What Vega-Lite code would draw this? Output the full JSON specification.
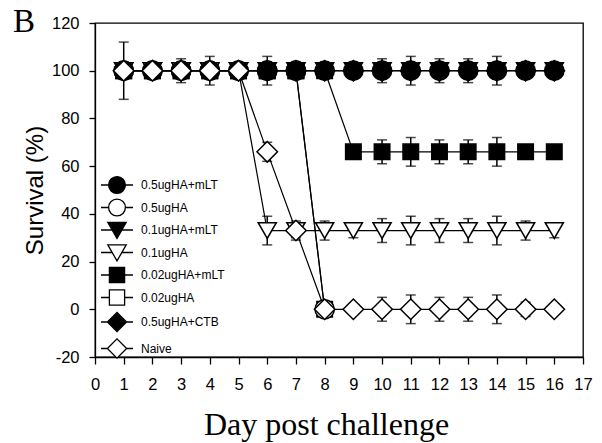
{
  "$schema": "https://vega.github.io/schema/vega-lite/v6.json",
  "width": 488,
  "height": 334,
  "autosize": {"type": "none"},
  "padding": {"left": 95, "top": 23, "right": 19, "bottom": 86},
  "background": "white",
  "title": {"text": "B", "anchor": "start", "frame": "group", "font": "Liberation Serif", "fontSize": 33, "fontWeight": "normal", "color": "black", "dx": -82, "dy": 12, "offset": -12},
  "config": {
    "view": {"stroke": "black", "strokeWidth": 1.3},
    "axis": {"grid": false, "domainColor": "black", "tickColor": "black", "labelColor": "black", "titleColor": "black", "labelFont": "Liberation Sans", "labelFontSize": 16.5, "domainWidth": 1.3, "tickWidth": 1.3, "labelFlush": false}
  },
  "datasets": {
    "pts": [
      {"group": "0.02ugHA", "day": 1, "survival": 100, "err": 0},
      {"group": "0.02ugHA", "day": 2, "survival": 100, "err": 0},
      {"group": "0.02ugHA", "day": 3, "survival": 100, "err": 0},
      {"group": "0.02ugHA", "day": 4, "survival": 100, "err": 0},
      {"group": "0.02ugHA", "day": 5, "survival": 100, "err": 0},
      {"group": "0.02ugHA", "day": 6, "survival": 100, "err": 0},
      {"group": "0.02ugHA", "day": 7, "survival": 100, "err": 0},
      {"group": "0.02ugHA", "day": 8, "survival": 0, "err": 0},
      {"group": "0.5ugHA", "day": 1, "survival": 100, "err": 0},
      {"group": "0.5ugHA", "day": 2, "survival": 100, "err": 0},
      {"group": "0.5ugHA", "day": 3, "survival": 100, "err": 0},
      {"group": "0.5ugHA", "day": 4, "survival": 100, "err": 0},
      {"group": "0.5ugHA", "day": 5, "survival": 100, "err": 0},
      {"group": "0.5ugHA", "day": 6, "survival": 100, "err": 0},
      {"group": "0.5ugHA", "day": 7, "survival": 100, "err": 0},
      {"group": "0.5ugHA", "day": 8, "survival": 0, "err": 0},
      {"group": "0.1ugHA+mLT", "day": 1, "survival": 100, "err": 0},
      {"group": "0.1ugHA+mLT", "day": 2, "survival": 100, "err": 0},
      {"group": "0.1ugHA+mLT", "day": 3, "survival": 100, "err": 0},
      {"group": "0.1ugHA+mLT", "day": 4, "survival": 100, "err": 0},
      {"group": "0.1ugHA+mLT", "day": 5, "survival": 100, "err": 0},
      {"group": "0.1ugHA+mLT", "day": 6, "survival": 100, "err": 0},
      {"group": "0.1ugHA+mLT", "day": 7, "survival": 100, "err": 0},
      {"group": "0.1ugHA+mLT", "day": 8, "survival": 100, "err": 0},
      {"group": "0.1ugHA+mLT", "day": 9, "survival": 100, "err": 0},
      {"group": "0.1ugHA+mLT", "day": 10, "survival": 100, "err": 0},
      {"group": "0.1ugHA+mLT", "day": 11, "survival": 100, "err": 0},
      {"group": "0.1ugHA+mLT", "day": 12, "survival": 100, "err": 0},
      {"group": "0.1ugHA+mLT", "day": 13, "survival": 100, "err": 0},
      {"group": "0.1ugHA+mLT", "day": 14, "survival": 100, "err": 0},
      {"group": "0.1ugHA+mLT", "day": 15, "survival": 100, "err": 0},
      {"group": "0.1ugHA+mLT", "day": 16, "survival": 100, "err": 0},
      {"group": "0.5ugHA+mLT", "day": 1, "survival": 100, "err": 0},
      {"group": "0.5ugHA+mLT", "day": 2, "survival": 100, "err": 0},
      {"group": "0.5ugHA+mLT", "day": 3, "survival": 100, "err": 0},
      {"group": "0.5ugHA+mLT", "day": 4, "survival": 100, "err": 0},
      {"group": "0.5ugHA+mLT", "day": 5, "survival": 100, "err": 0},
      {"group": "0.5ugHA+mLT", "day": 6, "survival": 100, "err": 6},
      {"group": "0.5ugHA+mLT", "day": 7, "survival": 100, "err": 2},
      {"group": "0.5ugHA+mLT", "day": 8, "survival": 100, "err": 2},
      {"group": "0.5ugHA+mLT", "day": 9, "survival": 100, "err": 0},
      {"group": "0.5ugHA+mLT", "day": 10, "survival": 100, "err": 5},
      {"group": "0.5ugHA+mLT", "day": 11, "survival": 100, "err": 6},
      {"group": "0.5ugHA+mLT", "day": 12, "survival": 100, "err": 5},
      {"group": "0.5ugHA+mLT", "day": 13, "survival": 100, "err": 5},
      {"group": "0.5ugHA+mLT", "day": 14, "survival": 100, "err": 6},
      {"group": "0.5ugHA+mLT", "day": 15, "survival": 100, "err": 2},
      {"group": "0.5ugHA+mLT", "day": 16, "survival": 100, "err": 0},
      {"group": "0.1ugHA", "day": 1, "survival": 100, "err": 0},
      {"group": "0.1ugHA", "day": 2, "survival": 100, "err": 0},
      {"group": "0.1ugHA", "day": 3, "survival": 100, "err": 0},
      {"group": "0.1ugHA", "day": 4, "survival": 100, "err": 0},
      {"group": "0.1ugHA", "day": 5, "survival": 100, "err": 0},
      {"group": "0.1ugHA", "day": 6, "survival": 33, "err": 6},
      {"group": "0.1ugHA", "day": 7, "survival": 33, "err": 3},
      {"group": "0.1ugHA", "day": 8, "survival": 33, "err": 4},
      {"group": "0.1ugHA", "day": 9, "survival": 33, "err": 3},
      {"group": "0.1ugHA", "day": 10, "survival": 33, "err": 5},
      {"group": "0.1ugHA", "day": 11, "survival": 33, "err": 6},
      {"group": "0.1ugHA", "day": 12, "survival": 33, "err": 5},
      {"group": "0.1ugHA", "day": 13, "survival": 33, "err": 5},
      {"group": "0.1ugHA", "day": 14, "survival": 33, "err": 6},
      {"group": "0.1ugHA", "day": 15, "survival": 33, "err": 4},
      {"group": "0.1ugHA", "day": 16, "survival": 33, "err": 3},
      {"group": "0.02ugHA+mLT", "day": 1, "survival": 100, "err": 0},
      {"group": "0.02ugHA+mLT", "day": 2, "survival": 100, "err": 0},
      {"group": "0.02ugHA+mLT", "day": 3, "survival": 100, "err": 0},
      {"group": "0.02ugHA+mLT", "day": 4, "survival": 100, "err": 0},
      {"group": "0.02ugHA+mLT", "day": 5, "survival": 100, "err": 0},
      {"group": "0.02ugHA+mLT", "day": 6, "survival": 100, "err": 0},
      {"group": "0.02ugHA+mLT", "day": 7, "survival": 100, "err": 0},
      {"group": "0.02ugHA+mLT", "day": 8, "survival": 100, "err": 0},
      {"group": "0.02ugHA+mLT", "day": 9, "survival": 66, "err": 0},
      {"group": "0.02ugHA+mLT", "day": 10, "survival": 66, "err": 5},
      {"group": "0.02ugHA+mLT", "day": 11, "survival": 66, "err": 6},
      {"group": "0.02ugHA+mLT", "day": 12, "survival": 66, "err": 5},
      {"group": "0.02ugHA+mLT", "day": 13, "survival": 66, "err": 5},
      {"group": "0.02ugHA+mLT", "day": 14, "survival": 66, "err": 6},
      {"group": "0.02ugHA+mLT", "day": 15, "survival": 66, "err": 3},
      {"group": "0.02ugHA+mLT", "day": 16, "survival": 66, "err": 0},
      {"group": "0.5ugHA+CTB", "day": 1, "survival": 100, "err": 0},
      {"group": "0.5ugHA+CTB", "day": 2, "survival": 100, "err": 0},
      {"group": "0.5ugHA+CTB", "day": 3, "survival": 100, "err": 0},
      {"group": "0.5ugHA+CTB", "day": 4, "survival": 100, "err": 0},
      {"group": "0.5ugHA+CTB", "day": 5, "survival": 100, "err": 0},
      {"group": "0.5ugHA+CTB", "day": 6, "survival": 100, "err": 0},
      {"group": "0.5ugHA+CTB", "day": 7, "survival": 100, "err": 0},
      {"group": "0.5ugHA+CTB", "day": 8, "survival": 100, "err": 0},
      {"group": "0.5ugHA+CTB", "day": 9, "survival": 100, "err": 0},
      {"group": "0.5ugHA+CTB", "day": 10, "survival": 100, "err": 0},
      {"group": "0.5ugHA+CTB", "day": 11, "survival": 100, "err": 0},
      {"group": "0.5ugHA+CTB", "day": 12, "survival": 100, "err": 0},
      {"group": "0.5ugHA+CTB", "day": 13, "survival": 100, "err": 0},
      {"group": "0.5ugHA+CTB", "day": 14, "survival": 100, "err": 0},
      {"group": "0.5ugHA+CTB", "day": 15, "survival": 100, "err": 0},
      {"group": "0.5ugHA+CTB", "day": 16, "survival": 100, "err": 0},
      {"group": "Naive", "day": 1, "survival": 100, "err": 12},
      {"group": "Naive", "day": 2, "survival": 100, "err": 2},
      {"group": "Naive", "day": 3, "survival": 100, "err": 5},
      {"group": "Naive", "day": 4, "survival": 100, "err": 6},
      {"group": "Naive", "day": 5, "survival": 100, "err": 0},
      {"group": "Naive", "day": 6, "survival": 66, "err": 4},
      {"group": "Naive", "day": 7, "survival": 33, "err": 4},
      {"group": "Naive", "day": 8, "survival": 0, "err": 3},
      {"group": "Naive", "day": 9, "survival": 0, "err": 0},
      {"group": "Naive", "day": 10, "survival": 0, "err": 5},
      {"group": "Naive", "day": 11, "survival": 0, "err": 6},
      {"group": "Naive", "day": 12, "survival": 0, "err": 5},
      {"group": "Naive", "day": 13, "survival": 0, "err": 5},
      {"group": "Naive", "day": 14, "survival": 0, "err": 6},
      {"group": "Naive", "day": 15, "survival": 0, "err": 3},
      {"group": "Naive", "day": 16, "survival": 0, "err": 0}
    ]
  },
  "data": {"name": "pts"},
  "encoding": {
    "x": {"field": "day", "type": "quantitative", "scale": {"domain": [0, 17], "nice": false},
      "axis": {"values": [0,1,2,3,4,5,6,7,8,9,10,11,12,13,14,15,16,17], "tickSize": 7, "labelPadding": 12, "title": "Day post challenge", "titleFont": "Liberation Serif", "titleFontSize": 32, "titleFontWeight": "normal", "titlePadding": 17, "titleX": 231}},
    "y": {"field": "survival", "type": "quantitative", "scale": {"domain": [-20, 120], "nice": false},
      "axis": {"values": [-20,0,20,40,60,80,100,120], "labelExpr": "toString(datum.value)", "tickSize": 6, "labelPadding": 10, "title": "Survival (%)", "titleFont": "Liberation Sans", "titleFontSize": 24, "titleFontWeight": "normal", "titlePadding": 4}}
  },
  "layer": [
    {
      "mark": {"type": "line", "color": "black", "strokeWidth": 1.2},
      "encoding": {"detail": {"field": "group"}}
    },
    {
      "transform": [{"filter": "datum.err > 0"}],
      "mark": {"type": "errorbar", "ticks": {"size": 10, "color": "black", "strokeWidth": 1.5}, "color": "black", "thickness": 1.5},
      "encoding": {"yError": {"field": "err"}, "detail": {"field": "group"}}
    },
    {
      "transform": [{"filter": "indexof(['0.02ugHA+mLT','0.02ugHA'], datum.group) >= 0"}],
      "mark": {"type": "point", "shape": "square", "size": 240, "filled": true, "stroke": "black", "strokeWidth": 1.5, "opacity": 1},
      "encoding": {"fill": {"condition": {"test": "datum.group == '0.02ugHA'", "value": "white"}, "value": "black"}}
    },
    {
      "transform": [{"filter": "indexof(['0.1ugHA+mLT','0.1ugHA'], datum.group) >= 0"}],
      "mark": {"type": "point", "shape": "triangle-down", "size": 330, "filled": true, "stroke": "black", "strokeWidth": 1.5, "opacity": 1},
      "encoding": {"fill": {"condition": {"test": "datum.group == '0.1ugHA'", "value": "white"}, "value": "black"}}
    },
    {
      "transform": [{"filter": "indexof(['0.5ugHA+mLT','0.5ugHA'], datum.group) >= 0"}],
      "mark": {"type": "point", "shape": "circle", "size": 370, "filled": true, "stroke": "black", "strokeWidth": 1.5, "opacity": 1},
      "encoding": {"fill": {"condition": {"test": "datum.group == '0.5ugHA'", "value": "white"}, "value": "black"}}
    },
    {
      "transform": [{"filter": "indexof(['0.5ugHA+CTB','Naive'], datum.group) >= 0"}],
      "mark": {"type": "point", "shape": "diamond", "size": 420, "filled": true, "stroke": "black", "strokeWidth": 1.5, "opacity": 1},
      "encoding": {"fill": {"condition": {"test": "datum.group == 'Naive'", "value": "white"}, "value": "black"}}
    },
    {
      "transform": [{"filter": "datum.day > 100"}],
      "mark": {"type": "point", "filled": true, "stroke": "black", "strokeWidth": 1.3},
      "encoding": {
        "shape": {"field": "group", "scale": {"domain": ["0.5ugHA+mLT","0.5ugHA","0.1ugHA+mLT","0.1ugHA","0.02ugHA+mLT","0.02ugHA","0.5ugHA+CTB","Naive"], "range": [
          "M-2,0L-1.05,0M1.05,0L2,0M-1.05,0A1.05,1.05,0,1,1,1.05,0A1.05,1.05,0,1,1,-1.05,0Z",
          "M-2,0L-1.05,0M1.05,0L2,0M-1.05,0A1.05,1.05,0,1,1,1.05,0A1.05,1.05,0,1,1,-1.05,0Z",
          "M-2,0L-0.6,0M0.6,0L2,0M-1.15,-0.95L1.15,-0.95L0,1.05Z",
          "M-2,0L-0.6,0M0.6,0L2,0M-1.15,-0.95L1.15,-0.95L0,1.05Z",
          "M-2,0L-0.95,0M0.95,0L2,0M-0.95,-0.95L0.95,-0.95L0.95,0.95L-0.95,0.95Z",
          "M-2,0L-0.95,0M0.95,0L2,0M-0.95,-0.95L0.95,-0.95L0.95,0.95L-0.95,0.95Z",
          "M-2,0L-1.2,0M1.2,0L2,0M-1.2,0L0,-1.2L1.2,0L0,1.2Z",
          "M-2,0L-1.2,0M1.2,0L2,0M-1.2,0L0,-1.2L1.2,0L0,1.2Z"
        ]},
          "legend": {"orient": "none", "legendX": 13, "legendY": 153, "title": null, "padding": 0, "symbolSize": 256, "symbolStrokeColor": "black", "symbolStrokeWidth": 1.3, "symbolOpacity": 1, "labelFont": "Liberation Sans", "labelFontSize": 12, "labelColor": "black", "labelOffset": 15, "rowPadding": 0.5,
            "encode": {"symbols": {"update": {"stroke": {"value": "black"}, "strokeWidth": {"value": 1.3}, "opacity": {"value": 1}}}}}},
        "fill": {"field": "group", "scale": {"domain": ["0.5ugHA+mLT","0.5ugHA","0.1ugHA+mLT","0.1ugHA","0.02ugHA+mLT","0.02ugHA","0.5ugHA+CTB","Naive"], "range": ["black","white","black","white","black","white","black","white"]},
          "legend": {"orient": "none", "legendX": 13, "legendY": 153, "title": null, "padding": 0, "symbolSize": 256, "symbolStrokeColor": "black", "symbolStrokeWidth": 1.3, "symbolOpacity": 1, "labelFont": "Liberation Sans", "labelFontSize": 12, "labelColor": "black", "labelOffset": 15, "rowPadding": 0.5,
            "encode": {"symbols": {"update": {"stroke": {"value": "black"}, "strokeWidth": {"value": 1.3}, "opacity": {"value": 1}}}}}}
      }
    }
  ]
}
